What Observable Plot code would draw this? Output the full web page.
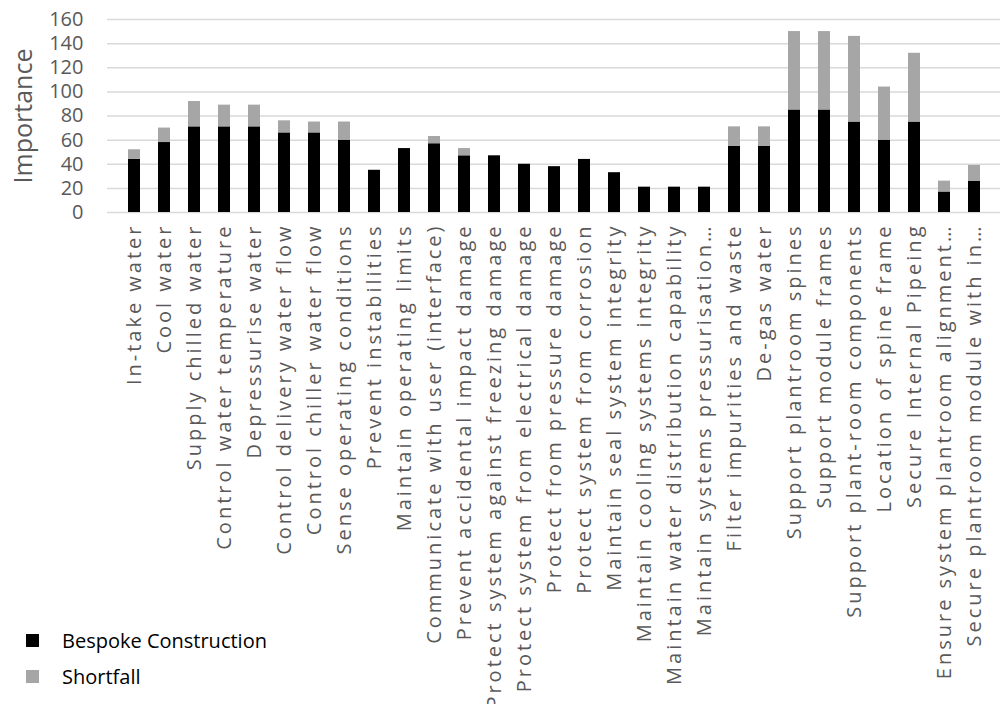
<!DOCTYPE html>
<html>
<head>
<meta charset="utf-8">
<script src="https://cdn.jsdelivr.net/npm/d3@7"></script>
<script src="https://cdn.jsdelivr.net/npm/@observablehq/plot@0.6"></script>
<style>
  html, body { margin: 0; padding: 0; background: #fff; }
  #wrap { position: relative; width: 1000px; height: 704px; overflow: hidden; font-family: "Open Sans", sans-serif; }
  #legend { position: absolute; left: 26px; top: 622px; font-size: 20px; color: #000; }
  .item { display: flex; align-items: center; height: 36px; }
  .sw { width: 13px; height: 13px; margin-right: 23px; }
</style>
</head>
<body>
<div id="wrap">
  <div id="chart"></div>
  <div id="legend"></div>
</div>
<script>
const categories = [
  "In-take water",
  "Cool water",
  "Supply chilled water",
  "Control water temperature",
  "Depressurise water",
  "Control delivery water flow",
  "Control chiller water flow",
  "Sense operating conditions",
  "Prevent instabilities",
  "Maintain operating limits",
  "Communicate with user (interface)",
  "Prevent accidental impact damage",
  "Protect system against freezing damage",
  "Protect system from electrical damage",
  "Protect from pressure damage",
  "Protect system from corrosion",
  "Maintain seal system integrity",
  "Maintain cooling systems integrity",
  "Maintain water distribution capability",
  "Maintain systems pressurisation…",
  "Filter impurities and waste",
  "De-gas water",
  "Support plantroom spines",
  "Support module frames",
  "Support plant-room components",
  "Location of spine frame",
  "Secure Internal Pipeing",
  "Ensure system plantroom alignment…",
  "Secure plantroom module with in…"
];
const bespoke = [44, 58, 71, 71, 71, 66, 66, 60, 35, 53, 57, 47, 47, 40, 38, 44, 33, 21, 21, 21, 55, 55, 85, 85, 75, 60, 75, 17, 26];
const shortfall = [8, 12, 21, 18, 18, 10, 9, 15, 0, 0, 6, 6, 0, 0, 0, 0, 0, 0, 0, 0, 16, 16, 65, 65, 71, 44, 57, 9, 13];
const seriesNames = ["Bespoke Construction", "Shortfall"];
const seriesColors = ["#000000", "#a6a6a6"];
const yTicks = [0, 20, 40, 60, 80, 100, 120, 140, 160];
const yTitle = "Importance";

const rows = [];
categories.forEach((c, i) => rows.push({cat: c, series: seriesNames[0], value: bespoke[i]}));
categories.forEach((c, i) => rows.push({cat: c, series: seriesNames[1], value: shortfall[i]}));

const chart = Plot.plot({
  width: 1000,
  height: 704,
  marginLeft: 107,
  marginRight: 0,
  marginTop: 19,
  marginBottom: 492,
  style: {fontFamily: "Open Sans, sans-serif", color: "#595959", background: "#fff"},
  x: {domain: categories, paddingInner: 0.6, paddingOuter: 0.3, label: null},
  y: {domain: [0, 160], label: null},
  color: {domain: seriesNames, range: seriesColors},
  marks: [
    Plot.ruleY(yTicks, {stroke: "#d9d9d9", strokeWidth: 1.5}),
    Plot.barY(rows, {x: "cat", y: "value", fill: "series"}),
    Plot.axisY(yTicks, {tickSize: 0, tickPadding: 24, fontSize: 20, fill: "#595959", label: null}),
    Plot.axisX({tickRotate: -90, tickSize: 0, tickPadding: 11, fontSize: 20, fill: "#595959", label: null}),
    Plot.text([yTitle], {frameAnchor: "left", textAnchor: "middle", dx: -84, rotate: -90, fontSize: 25, fill: "#595959", text: d => d})
  ]
});
document.getElementById("chart").appendChild(chart);
d3.select(chart).selectAll('[aria-label="x-axis tick label"] text').attr("letter-spacing", "3px");

const legend = document.getElementById("legend");
seriesNames.forEach((n, i) => {
  const it = document.createElement("div");
  it.className = "item";
  const sw = document.createElement("div");
  sw.className = "sw";
  sw.style.background = seriesColors[i];
  const t = document.createElement("span");
  t.textContent = n;
  it.appendChild(sw); it.appendChild(t);
  legend.appendChild(it);
});
</script>
</body>
</html>
